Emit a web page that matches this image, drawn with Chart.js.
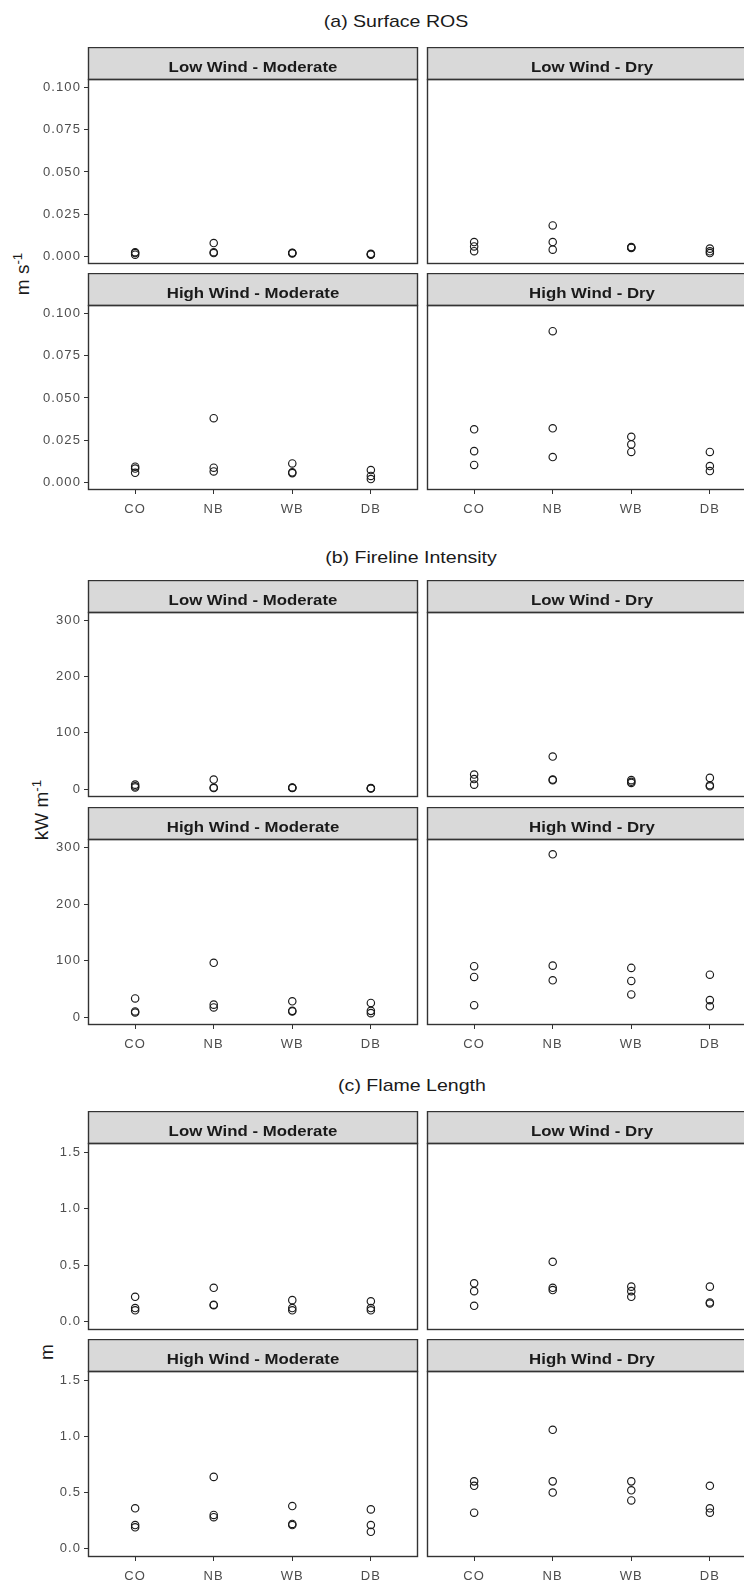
<!DOCTYPE html>
<html>
<head>
<meta charset="utf-8">
<script src="https://cdn.jsdelivr.net/npm/chart.js@4"></script>
<style>
  html, body { margin: 0; padding: 0; width: 744px; height: 1585px; overflow: hidden; background: #fff; }
  #page { position: relative; width: 744px; height: 1585px; overflow: hidden; }
  #page canvas { position: absolute; }
  .title {
    position: absolute; white-space: nowrap; color: #1a1a1a;
    font: 17px "Liberation Sans", Arial, sans-serif; line-height: 17px;
    transform: translateX(-50%) scaleX(1.15);
  }
  .ytitle {
    position: absolute; white-space: nowrap; color: #1a1a1a;
    font: 19px "Liberation Sans", Arial, sans-serif; line-height: 19px;
    transform: translate(-50%, -50%) rotate(-90deg);
  }
  .ytitle sup { font-size: 0.7em; vertical-align: 0.55em; }
</style>
</head>
<body>
<div id="page">
  <div class="title" style="left:396px; top:13px;">(a) Surface ROS</div>
  <div class="title" style="left:411px; top:549px;">(b) Fireline Intensity</div>
  <div class="title" style="left:412px; top:1077px;">(c) Flame Length</div>
  <div class="ytitle" style="left:20px; top:274px;">m s<sup>-1</sup></div>
  <div class="ytitle" style="left:39px; top:810px;">kW m<sup>-1</sup></div>
  <div class="ytitle" style="left:46px; top:1352px;">m</div>
</div>
<script>
// Treatments on the x axis and facet names
const categories = ['CO', 'NB', 'WB', 'DB'];
const facetNames = ['Low Wind - Moderate', 'Low Wind - Dry', 'High Wind - Moderate', 'High Wind - Dry'];

// (a) Surface rate of spread, m s-1: three replicates per treatment (CO, NB, WB, DB)
const rosLowModerate  = [[0.0010, 0.0020, 0.0025], [0.0079, 0.0025, 0.0020], [0.0018, 0.0020, 0.0022], [0.0010, 0.0013, 0.0015]];
const rosLowDry       = [[0.0085, 0.0059, 0.0031], [0.0183, 0.0085, 0.0040], [0.0050, 0.0053, 0.0055], [0.0046, 0.0030, 0.0020]];
const rosHighModerate = [[0.0093, 0.0082, 0.0057], [0.0380, 0.0087, 0.0065], [0.0112, 0.0060, 0.0055], [0.0073, 0.0038, 0.0020]];
const rosHighDry      = [[0.0314, 0.0185, 0.0103], [0.0895, 0.0320, 0.0150], [0.0270, 0.0225, 0.0180], [0.0180, 0.0097, 0.0067]];

// (b) Fireline intensity, kW m-1
const fliLowModerate  = [[8, 5, 3], [17, 3, 2], [3, 2, 2.5], [1, 1.5, 2]];
const fliLowDry       = [[26, 18, 8], [58, 17, 16], [16, 13, 11], [20, 7, 5]];
const fliHighModerate = [[33, 10, 8], [96, 22, 17], [28, 11, 10], [25, 11, 7]];
const fliHighDry      = [[90, 71, 21], [288, 91, 65], [87, 64, 40], [75, 30, 19]];

// (c) Flame length, m
const flLowModerate   = [[0.22, 0.12, 0.10], [0.30, 0.15, 0.145], [0.19, 0.12, 0.10], [0.18, 0.12, 0.10]];
const flLowDry        = [[0.34, 0.27, 0.14], [0.53, 0.30, 0.28], [0.31, 0.27, 0.22], [0.31, 0.17, 0.16]];
const flHighModerate  = [[0.36, 0.21, 0.19], [0.64, 0.30, 0.28], [0.38, 0.22, 0.21], [0.35, 0.21, 0.15]];
const flHighDry       = [[0.60, 0.56, 0.32], [1.06, 0.60, 0.50], [0.60, 0.52, 0.43], [0.56, 0.36, 0.32]];

// Y tick values and their labels
const rosTicks = [0, 0.025, 0.05, 0.075, 0.1];
const rosTickLabels = ['0.000', '0.025', '0.050', '0.075', '0.100'];
const fliTicks = [0, 100, 200, 300];
const fliTickLabels = ['0', '100', '200', '300'];
const flTicks = [0, 0.5, 1.0, 1.5];
const flTickLabels = ['0.0', '0.5', '1.0', '1.5'];

// ---------------------------------------------------------------------------
const FONT = '"Liberation Sans", Arial, sans-serif';
const STRIP_H = 32;
const page = document.getElementById('page');

// Facet strip above each panel plus the panel frame
const facetFrame = {
  id: 'facetFrame',
  beforeDraw(chart) {
    chart.ctx.letterSpacing = '1.1px';
  },
  afterDraw(chart, args, opts) {
    const ctx = chart.ctx;
    const a = chart.chartArea;
    const l = Math.round(a.left) + 0.5, t = Math.round(a.top) + 0.5;
    const r = Math.round(a.right) - 0.5, b = Math.round(a.bottom) - 0.5;
    ctx.save();
    ctx.letterSpacing = '0px';
    // strip
    ctx.fillStyle = '#d9d9d9';
    ctx.fillRect(l, t - STRIP_H, r - l, STRIP_H);
    ctx.strokeStyle = '#333333';
    ctx.lineWidth = 1.4;
    ctx.strokeRect(l, t - STRIP_H, r - l, STRIP_H);
    // panel border
    ctx.strokeRect(l, t, r - l, b - t);
    // strip label
    ctx.fillStyle = '#1a1a1a';
    ctx.font = 'bold 15px ' + FONT;
    ctx.textAlign = 'center';
    ctx.textBaseline = 'alphabetic';
    ctx.translate((l + r) / 2, t - STRIP_H + 24);
    ctx.scale(1.12, 1);
    ctx.fillText(opts.text, 0, 0);
    ctx.restore();
  }
};

function makePanel(p) {
  const canvas = document.createElement('canvas');
  canvas.width = p.width;
  canvas.height = p.height;
  canvas.style.left = p.left + 'px';
  canvas.style.top = p.top + 'px';
  canvas.style.width = p.width + 'px';
  canvas.style.height = p.height + 'px';
  page.appendChild(canvas);

  const points = [];
  p.values.forEach((reps, ci) => reps.forEach(v => points.push({ x: ci, y: v })));

  const tickFont = { family: FONT, size: 13 };
  new Chart(canvas, {
    type: 'scatter',
    data: {
      datasets: [{
        data: points,
        pointStyle: 'circle',
        pointRadius: 3.7,
        pointHoverRadius: 3.7,
        pointBorderWidth: 1.15,
        borderColor: '#1a1a1a',
        backgroundColor: 'rgba(0,0,0,0)'
      }]
    },
    options: {
      responsive: false,
      animation: false,
      devicePixelRatio: 1,
      events: [],
      layout: {
        autoPadding: false,
        padding: { top: STRIP_H, left: p.padLeft, right: p.padRight, bottom: p.showX ? 0 : 1 }
      },
      plugins: {
        legend: { display: false },
        tooltip: { enabled: false },
        facetFrame: { text: p.strip }
      },
      scales: {
        x: {
          type: 'linear',
          min: -0.6,
          max: 3.6,
          display: p.showX,
          afterBuildTicks: s => { s.ticks = categories.map((c, i) => ({ value: i })); },
          afterFit: s => {
            s.height = p.showX ? 26 : 0;
            s.paddingLeft = 0; s.paddingRight = 0;
          },
          ticks: {
            callback: v => categories[v],
            font: tickFont,
            color: '#4d4d4d',
            padding: 8,
            autoSkip: false,
            maxRotation: 0
          },
          grid: { display: true, drawOnChartArea: false, drawTicks: true, tickLength: 4, color: '#333333' },
          border: { display: false }
        },
        y: {
          type: 'linear',
          min: p.yMin,
          max: p.yMax,
          display: p.showY,
          afterBuildTicks: s => { s.ticks = p.ticks.map(v => ({ value: v })); },
          afterFit: s => {
            s.width = p.showY ? 88 : 0;
            s.paddingTop = 0; s.paddingBottom = 0;
          },
          ticks: {
            callback: v => p.tickLabels[p.ticks.indexOf(v)],
            font: tickFont,
            color: '#4d4d4d',
            padding: 3
          },
          grid: { display: true, drawOnChartArea: false, drawTicks: true, tickLength: 4, color: '#333333' },
          border: { display: false }
        }
      }
    },
    plugins: [facetFrame]
  });
}

// One section = 2 x 2 facets sharing a y scale
function makeSection(rowTops, rowBottoms, yMin, yMax, ticks, tickLabels, facets) {
  facets.forEach((vals, i) => {
    const row = Math.floor(i / 2), col = i % 2;
    const bottomRow = row === 1;
    const top = rowTops[row];
    const height = rowBottoms[row] - top + (bottomRow ? 26 : 1);
    makePanel({
      left: col === 0 ? 0 : 420,
      width: col === 0 ? 420 : 340,
      top: top,
      height: height,
      padLeft: col === 0 ? 0 : 7,
      padRight: col === 0 ? 2 : 3,
      showY: col === 0,
      showX: bottomRow,
      yMin, yMax, ticks, tickLabels,
      values: vals,
      strip: facetNames[i]
    });
  });
}

makeSection([47, 273], [264, 490], -0.0045, 0.105, rosTicks, rosTickLabels,
  [rosLowModerate, rosLowDry, rosHighModerate, rosHighDry]);
makeSection([580, 807], [797, 1025], -14, 315, fliTicks, fliTickLabels,
  [fliLowModerate, fliLowDry, fliHighModerate, fliHighDry]);
makeSection([1111, 1339], [1330, 1557], -0.075, 1.585, flTicks, flTickLabels,
  [flLowModerate, flLowDry, flHighModerate, flHighDry]);
</script>
</body>
</html>
